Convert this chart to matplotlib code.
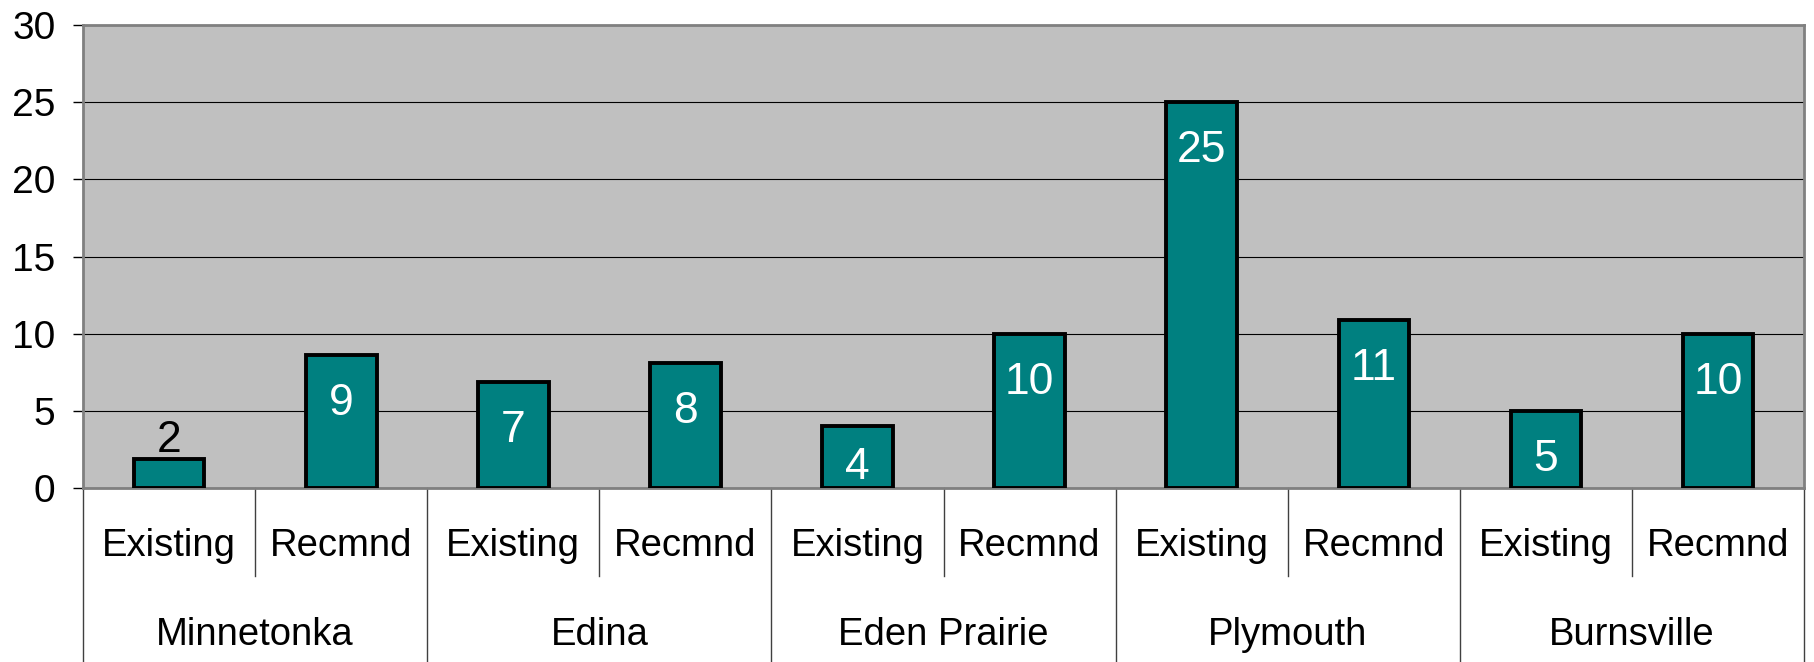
import matplotlib.pyplot as plt
import numpy as np

plt.rcParams['font.family'] = ['Liberation Sans', 'DejaVu Sans']

# Data
cities = ['Minnetonka', 'Edina', 'Eden Prairie', 'Plymouth', 'Burnsville']
kinds = ['Existing', 'Recmnd']
existing = [1.9, 6.9, 4.0, 25.0, 5.0]
recmnd = [8.6, 8.1, 10.0, 10.9, 10.0]
y_ticks = [0, 5, 10, 15, 20, 25, 30]

values = []
for e, r in zip(existing, recmnd):
    values += [e, r]
sub_labels = kinds * len(cities)
x = np.arange(len(values))

fig = plt.figure(figsize=(18.14, 6.62), dpi=100)
ax = fig.add_axes([0.0458, 0.2628, 0.9487, 0.6994])
ax.set_facecolor('#C0C0C0')

bars = ax.bar(x, values, width=0.41, color='#008080', edgecolor='black', linewidth=2.8, zorder=3)

ax.set_xlim(-0.5, len(values) - 0.5)
ax.set_ylim(0, 30)
ax.set_yticks(y_ticks)
ax.set_yticklabels([str(t) for t in y_ticks], fontsize=28)
ax.tick_params(axis='y', length=7, width=1, color='black', pad=13)
ax.set_xticks([])
ax.yaxis.grid(True, color='black', linewidth=0.8, zorder=1)
ax.set_axisbelow(True)
for side in ['left', 'top', 'right', 'bottom']:
    ax.spines[side].set_color('#808080')
    ax.spines[side].set_linewidth(2)

# value labels: white inside the bar, black above when the bar is too short
pt_per_unit = ax.get_window_extent().height / 30 * 72 / fig.dpi
for b, v in zip(bars, values):
    cx = b.get_x() + b.get_width() / 2
    if v < 3:
        ax.annotate('%.0f' % v, (cx, v), xytext=(0, 5), textcoords='offset points',
                    ha='center', va='baseline', fontsize=32, color='black')
    else:
        off = min(35, v * pt_per_unit - 15)
        ax.annotate('%.0f' % v, (cx, v), xytext=(0, -off), textcoords='offset points',
                    ha='center', va='center', fontsize=32, color='white')

# multi-level category axis
trans = ax.get_xaxis_transform()
for i, lab in enumerate(sub_labels):
    ax.text(x[i], -0.125, lab, transform=trans, ha='center', va='center', fontsize=27.5)
for g, city in enumerate(cities):
    ax.text(2 * g + 0.5, -0.318, city, transform=trans, ha='center', va='center', fontsize=27.5)
for g in range(len(cities) + 1):
    ax.plot([2 * g - 0.5, 2 * g - 0.5], [0, -0.4], transform=trans, color='#404040',
            linewidth=1, clip_on=False)
for g in range(len(cities)):
    ax.plot([2 * g + 0.5, 2 * g + 0.5], [0, -0.19], transform=trans, color='#404040',
            linewidth=1, clip_on=False)

fig.savefig('out.png', dpi=100)
